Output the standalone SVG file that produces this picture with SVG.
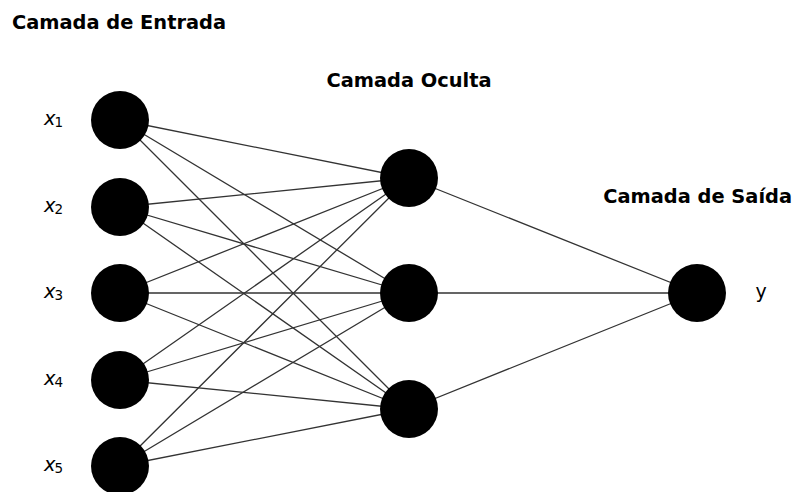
<svg xmlns="http://www.w3.org/2000/svg" width="793" height="492" viewBox="0 0 793 492">
<style>
.e{stroke:#333;stroke-width:1.3;fill:none}
.n{fill:#000}
.t{font-family:"DejaVu Sans",sans-serif;font-weight:bold;font-size:19.4px;fill:#000}
.l{font-family:"DejaVu Sans",sans-serif;font-style:italic;font-size:19.4px;fill:#000}
.s{font-style:normal;font-size:13.5px}
.y{font-family:"DejaVu Sans",sans-serif;font-size:19px;fill:#000}
</style>
<rect width="793" height="492" fill="#fff"/>
<g id="connectors" class="e">
<path d="M120 120L409 178M120 120L409 293M120 120L409 409"/>
<path d="M120 207L409 178M120 207L409 293M120 207L409 409"/>
<path d="M120 293L409 178M120 293L409 293M120 293L409 409"/>
<path d="M120 380L409 178M120 380L409 293M120 380L409 409"/>
<path d="M120 466L409 178M120 466L409 293M120 466L409 409"/>
<path d="M409 178L697 293M409 293L697 293M409 409L697 293"/>
</g>
<g id="titles">
<text class="t" x="12" y="29">Camada de Entrada</text>
<text class="t" x="409" y="87" text-anchor="middle">Camada Oculta</text>
<text class="t" x="792" y="203" text-anchor="end">Camada de Saída</text>
</g>
<g id="in1"><circle class="n" cx="120" cy="120" r="29"/><text class="l" x="44" y="125">x<tspan class="s" dx="-1" dy="2">1</tspan></text></g>
<g id="in2"><circle class="n" cx="120" cy="207" r="29"/><text class="l" x="44" y="212">x<tspan class="s" dx="-1" dy="2">2</tspan></text></g>
<g id="in3"><circle class="n" cx="120" cy="293" r="29"/><text class="l" x="44" y="298">x<tspan class="s" dx="-1" dy="2">3</tspan></text></g>
<g id="in4"><circle class="n" cx="120" cy="380" r="29"/><text class="l" x="44" y="385">x<tspan class="s" dx="-1" dy="2">4</tspan></text></g>
<g id="in5"><circle class="n" cx="120" cy="466" r="29"/><text class="l" x="44" y="471">x<tspan class="s" dx="-1" dy="2">5</tspan></text></g>
<g id="h1"><circle class="n" cx="409" cy="178" r="29"/></g>
<g id="h2"><circle class="n" cx="409" cy="293" r="29"/></g>
<g id="h3"><circle class="n" cx="409" cy="409" r="29"/></g>
<g id="out"><circle class="n" cx="697" cy="293" r="29"/><text class="y" x="761" y="298" text-anchor="middle">y</text></g>
</svg>
